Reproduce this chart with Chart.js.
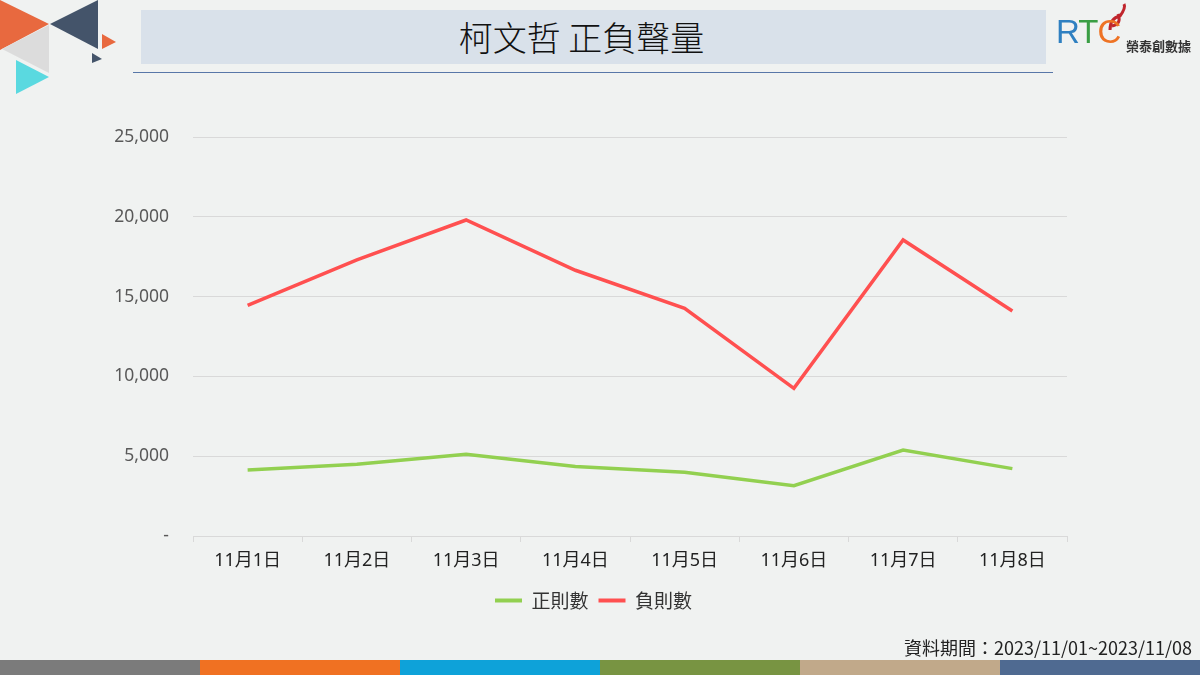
<!DOCTYPE html>
<html>
<head>
<meta charset="utf-8">
<script src="https://cdn.jsdelivr.net/npm/chart.js@4.4.1/dist/chart.umd.min.js"></script>
<style>
  html, body { margin: 0; padding: 0; }
  body { width: 1200px; height: 675px; background: #f0f2f1; position: relative; overflow: hidden;
         font-family: "Noto Sans", "Noto Sans CJK TC", sans-serif; }
  #deco { position: absolute; left: 0; top: 0; }
  .title-box { position: absolute; left: 141px; top: 10px; width: 905px; height: 54px; background: #d9e1ea;
               font-family: "Noto Sans CJK TC", sans-serif; font-size: 34px; font-weight: 300; color: #111;
               text-align: center; line-height: 54px; box-sizing: border-box; padding-right: 24px; }
  .rule { position: absolute; left: 133px; top: 72px; width: 920px; height: 1px; background: #5877a8; }
  .rtc { position: absolute; left: 1056px; top: 12px; font-family: "Liberation Sans", sans-serif; font-size: 33px; line-height: 40px; letter-spacing: -1px; }
  .rtc-sub { position: absolute; left: 1126px; top: 36px; font-family: "Noto Sans CJK TC", sans-serif; font-size: 13px; font-weight: 700; color: #333; }
  .foot { position: absolute; right: 8px; top: 634px; font-family: "Noto Sans CJK TC", sans-serif; font-size: 18px; color: #222; }
  .stripes { position: absolute; left: 0; top: 660px; width: 1200px; height: 15px; display: flex; }
  .stripes div { flex: 1; }
  #chart-wrap { position: absolute; left: 0; top: 0; width: 1200px; height: 675px; }
</style>
</head>
<body>
<canvas id="deco" width="1200" height="675"></canvas>
<div class="title-box">柯文哲 正負聲量</div>
<div class="rule"></div>
<div class="rtc"><span style="color:#2f80c1">R</span><span style="color:#3a9e44">T</span><span style="color:#ee7324">C</span></div>
<div class="rtc-sub">榮泰創數據</div>
<div class="foot">資料期間：2023/11/01~2023/11/08</div>
<div class="stripes">
  <div style="background:#7b7b7b"></div>
  <div style="background:#f07122"></div>
  <div style="background:#0ea2d9"></div>
  <div style="background:#789442"></div>
  <div style="background:#c1a98a"></div>
  <div style="background:#4f6a91"></div>
</div>
<div id="chart-wrap"><canvas id="chart"></canvas></div>
<script>
const days = ['11月1日', '11月2日', '11月3日', '11月4日', '11月5日', '11月6日', '11月7日', '11月8日'];
const positiveCounts = [4130, 4500, 5120, 4350, 4000, 3150, 5390, 4220];
const negativeCounts = [14450, 17300, 19800, 16650, 14270, 9250, 18550, 14100];
const yTicks = [0, 5000, 10000, 15000, 20000, 25000];

// top-left triangles + red swirl of the logo
const d = document.getElementById('deco').getContext('2d');
function tri(c, pts) {
  d.fillStyle = c;
  d.beginPath();
  d.moveTo(pts[0], pts[1]); d.lineTo(pts[2], pts[3]); d.lineTo(pts[4], pts[5]);
  d.closePath();
  d.fill();
}
tri('#e8693f', [0, 0, 0, 50, 49, 24]);
tri('#dcdcdc', [49, 25, 49, 73, 2, 49]);
tri('#44546a', [98, 0, 98, 49, 50, 24]);
tri('#5ad9e0', [16, 60, 16, 94, 49, 77]);
tri('#e8693f', [102, 34, 102, 49, 116, 42]);
tri('#44546a', [92, 53, 92, 63, 102, 59]);
d.strokeStyle = '#c0262d';
d.lineWidth = 3;
d.beginPath();
d.moveTo(1110, 30); d.quadraticCurveTo(1110, 18, 1120, 16); d.quadraticCurveTo(1126, 8, 1124, 4);
d.moveTo(1112, 26); d.quadraticCurveTo(1122, 24, 1118, 14);
d.stroke();

// legend in the reference sits centred on the slide, not on the plot
const shiftLegend = {
  id: 'shiftLegend',
  afterLayout(chart) {
    chart.legend.left += 60;
    chart.legend.right += 60;
  }
};

new Chart(document.getElementById('chart'), {
  type: 'line',
  data: {
    labels: days,
    datasets: [
      { label: '正則數', data: positiveCounts, borderColor: '#92d050', backgroundColor: '#92d050',
        borderWidth: 3.5, pointRadius: 0, tension: 0 },
      { label: '負則數', data: negativeCounts, borderColor: '#ff5050', backgroundColor: '#ff5050',
        borderWidth: 3.5, pointRadius: 0, tension: 0 }
    ]
  },
  plugins: [shiftLegend],
  options: {
    responsive: true,
    maintainAspectRatio: false,
    animation: false,
    layout: { padding: { left: 0, right: 133, top: 137, bottom: 55 } },
    plugins: {
      tooltip: { enabled: false },
      legend: {
        position: 'bottom',
        labels: {
          font: { family: '"Noto Sans CJK TC", sans-serif', size: 19 },
          color: '#333',
          boxWidth: 27,
          boxHeight: 4,
          padding: 10,
          generateLabels(chart) {
            return Chart.defaults.plugins.legend.labels.generateLabels(chart).map(l => {
              l.lineWidth = 0;
              l.fillStyle = l.strokeStyle;
              return l;
            });
          }
        }
      }
    },
    scales: {
      x: {
        offset: true,
        grid: { drawOnChartArea: false, drawTicks: true, tickLength: 6, color: '#d9d9d9', offset: true },
        border: { display: true, color: '#d9d9d9' },
        ticks: { font: { family: '"Noto Sans", "Noto Sans CJK TC", sans-serif', size: 18 }, color: '#222', padding: 8, maxRotation: 0 },
        afterFit(scale) { scale.height = 45; }
      },
      y: {
        min: 0,
        max: 25000,
        afterBuildTicks(scale) { scale.ticks = yTicks.map(v => ({ value: v })); },
        grid: { color: '#d9d9d9', drawTicks: false },
        border: { display: false },
        ticks: {
          font: { family: '"Noto Sans", sans-serif', size: 17.5 },
          color: '#595959',
          padding: 24,
          callback: v => v === 0 ? '-' : v.toLocaleString('en-US')
        },
        afterFit(scale) { scale.width = 193; }
      }
    }
  }
});
</script>
</body>
</html>
